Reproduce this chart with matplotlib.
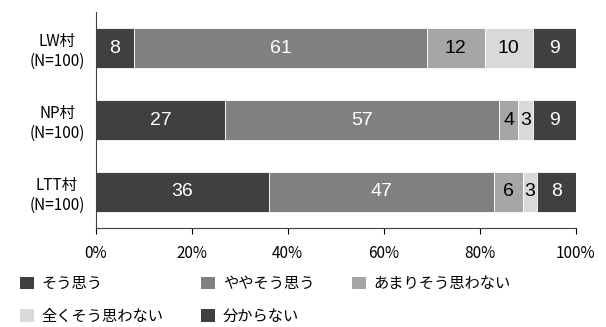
import numpy as np
import matplotlib.pyplot as plt
from matplotlib.patches import Patch

plt.rcParams['font.family'] = ['Noto Sans CJK JP', 'DejaVu Sans']

# data (top to bottom)
villages = ["LW村\n(N=100)", "NP村\n(N=100)", "LTT村\n(N=100)"]
categories = ["そう思う", "ややそう思う", "あまりそう思わない", "全くそう思わない", "分からない"]
sou_omou = [8, 27, 36]
yaya = [61, 57, 47]
amari = [12, 4, 6]
mattaku = [10, 3, 3]
wakaranai = [9, 9, 8]
xticks = [0, 20, 40, 60, 80, 100]

series = [sou_omou, yaya, amari, mattaku, wakaranai]
colors = ["#404040", "#808080", "#a6a6a6", "#d9d9d9", "#404040"]
text_colors = ["white", "white", "black", "black", "white"]

fig = plt.figure(figsize=(6.06, 3.27), dpi=100)
ax = fig.add_axes([0.158, 0.303, 0.792, 0.66])

y = np.arange(len(villages))
left = np.zeros(len(villages))
for vals, col, tcol in zip(series, colors, text_colors):
    vals = np.array(vals, dtype=float)
    ax.barh(y, vals, left=left, height=0.56, color=col, edgecolor="white", linewidth=0.6)
    for yi, l, v in zip(y, left, vals):
        ax.text(l + v / 2, yi, f"{v:.0f}", ha="center", va="center",
                color=tcol, fontsize=14, family=['Liberation Sans', 'DejaVu Sans'])
    left += vals

ax.set_xlim(0, 100)
ax.set_ylim(2.5, -0.5)
ax.set_yticks(y)
ax.set_yticklabels(villages, fontsize=11, linespacing=1.2, multialignment="center")
ax.set_xticks(xticks)
ax.set_xticklabels([f"{t}%" for t in xticks], fontsize=11)
ax.tick_params(axis="y", length=0, pad=8)
ax.tick_params(axis="x", length=4, direction="out", pad=8)
ax.spines["top"].set_visible(False)
ax.spines["right"].set_visible(False)
for s in ["left", "bottom"]:
    ax.spines[s].set_color("#404040")

# legend filled row by row (3 columns, 2 rows)
handles = [Patch(facecolor=c, edgecolor="none") for c in colors]
order = [0, 3, 1, 4, 2]
fig.legend([handles[i] for i in order], [categories[i] for i in order],
           loc="lower left", bbox_to_anchor=(0.01, -0.035),
           ncol=3, frameon=False, fontsize=11, handlelength=0.9, handleheight=0.9,
           handletextpad=0.5, columnspacing=2.5, labelspacing=1.0)

fig.savefig("out.png", dpi=100)
